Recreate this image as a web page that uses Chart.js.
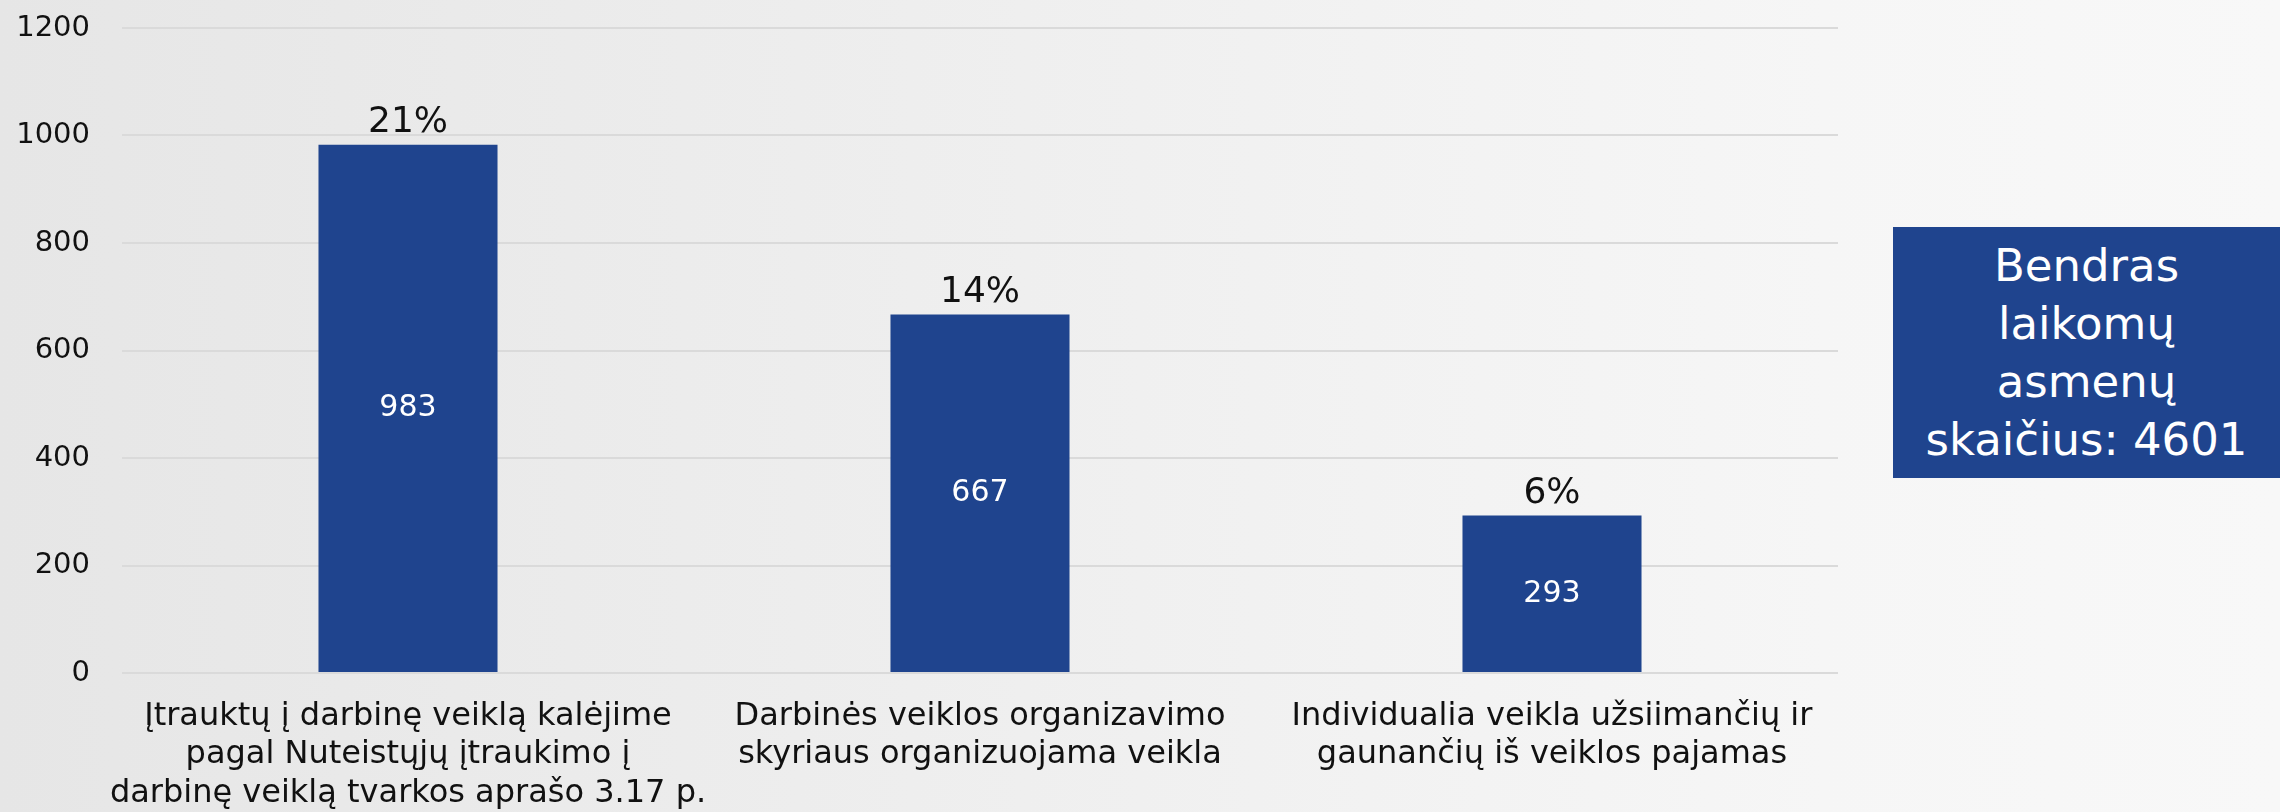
<!DOCTYPE html>
<html>
<head>
<meta charset="utf-8">
<script src="https://cdn.jsdelivr.net/npm/chart.js@4"></script>
<style>
  html, body { margin: 0; padding: 0; }
  body {
    width: 2280px; height: 812px; overflow: hidden; position: relative;
    background: linear-gradient(90deg, #e6e6e6 0%, #efefef 45%, #f6f6f6 80%, #f8f8f8 100%);
    font-family: 'DejaVu Sans', sans-serif;
  }
  #wrap { position: absolute; left: 0; top: 0; width: 2280px; height: 812px; }
  #totalBox {
    position: absolute; left: 1893px; top: 227px; width: 387px; height: 251px;
    background: #1f448e; color: #fff;
    font-size: 45px; line-height: 58px; text-align: center;
    display: flex; align-items: center; justify-content: center;
  }
</style>
</head>
<body>
<div id="wrap"><canvas id="chart"></canvas></div>
<div id="totalBox"><div>Bendras<br>laikomų<br>asmenų<br>skaičius: 4601</div></div>
<script>
// ===== Data =====
var categories = [
    ['Įtrauktų į darbinę veiklą kalėjime', 'pagal Nuteistųjų įtraukimo į', 'darbinę veiklą tvarkos aprašo 3.17 p.'],
    ['Darbinės veiklos organizavimo', 'skyriaus organizuojama veikla'],
    ['Individualia veikla užsiimančių ir', 'gaunančių iš veiklos pajamas']
];
var values = [983, 667, 293];
var shares = ['21%', '14%', '6%'];
var yTicks = [0, 200, 400, 600, 800, 1000, 1200];

var FONT = "'DejaVu Sans', sans-serif";

// ===== Labels on bars =====
var barLabels = {
    id: 'barLabels',
    afterDatasetsDraw: function(chart) {
        var ctx = chart.ctx;
        var meta = chart.getDatasetMeta(0);
        ctx.save();
        ctx.textAlign = 'center';
        meta.data.forEach(function(bar, i) {
            // value inside bar
            ctx.fillStyle = '#ffffff';
            ctx.font = '30px ' + FONT;
            ctx.textBaseline = 'middle';
            ctx.fillText(String(values[i]), bar.x, (bar.y + bar.base) / 2);
            // share above bar
            ctx.fillStyle = '#111111';
            ctx.font = '36px ' + FONT;
            ctx.textBaseline = 'bottom';
            ctx.fillText(shares[i], bar.x, bar.y - 4);
        });
        ctx.restore();
    }
};

new Chart(document.getElementById('chart'), {
    type: 'bar',
    data: {
        labels: categories,
        datasets: [{
            data: values,
            backgroundColor: '#1f448e',
            categoryPercentage: 1,
            barPercentage: 0.313
        }]
    },
    options: {
        responsive: true,
        maintainAspectRatio: false,
        animation: false,
        layout: { padding: { top: 28, right: 442, bottom: 0, left: 0 } },
        plugins: { legend: { display: false }, tooltip: { enabled: false } },
        scales: {
            x: {
                grid: { display: false, drawTicks: false },
                border: { display: false },
                ticks: { color: '#111', font: { family: FONT, size: 32, lineHeight: 1.19 }, padding: 25, maxRotation: 0, autoSkip: false },
                afterFit: function(s) { s.height = 139; }
            },
            y: {
                min: yTicks[0],
                max: yTicks[yTicks.length - 1],
                grid: { color: '#dadada', lineWidth: 2, drawTicks: false },
                border: { display: false },
                ticks: {
                    stepSize: yTicks[1] - yTicks[0],
                    color: '#111', font: { family: FONT, size: 29 }, padding: 32,
                    callback: function(v) { return String(v); }
                },
                afterFit: function(s) {
                    s.width = 122;
                    s.paddingTop = 17;
                    s.paddingBottom = 17;
                }
            }
        }
    },
    plugins: [barLabels]
});
</script>
</body>
</html>
